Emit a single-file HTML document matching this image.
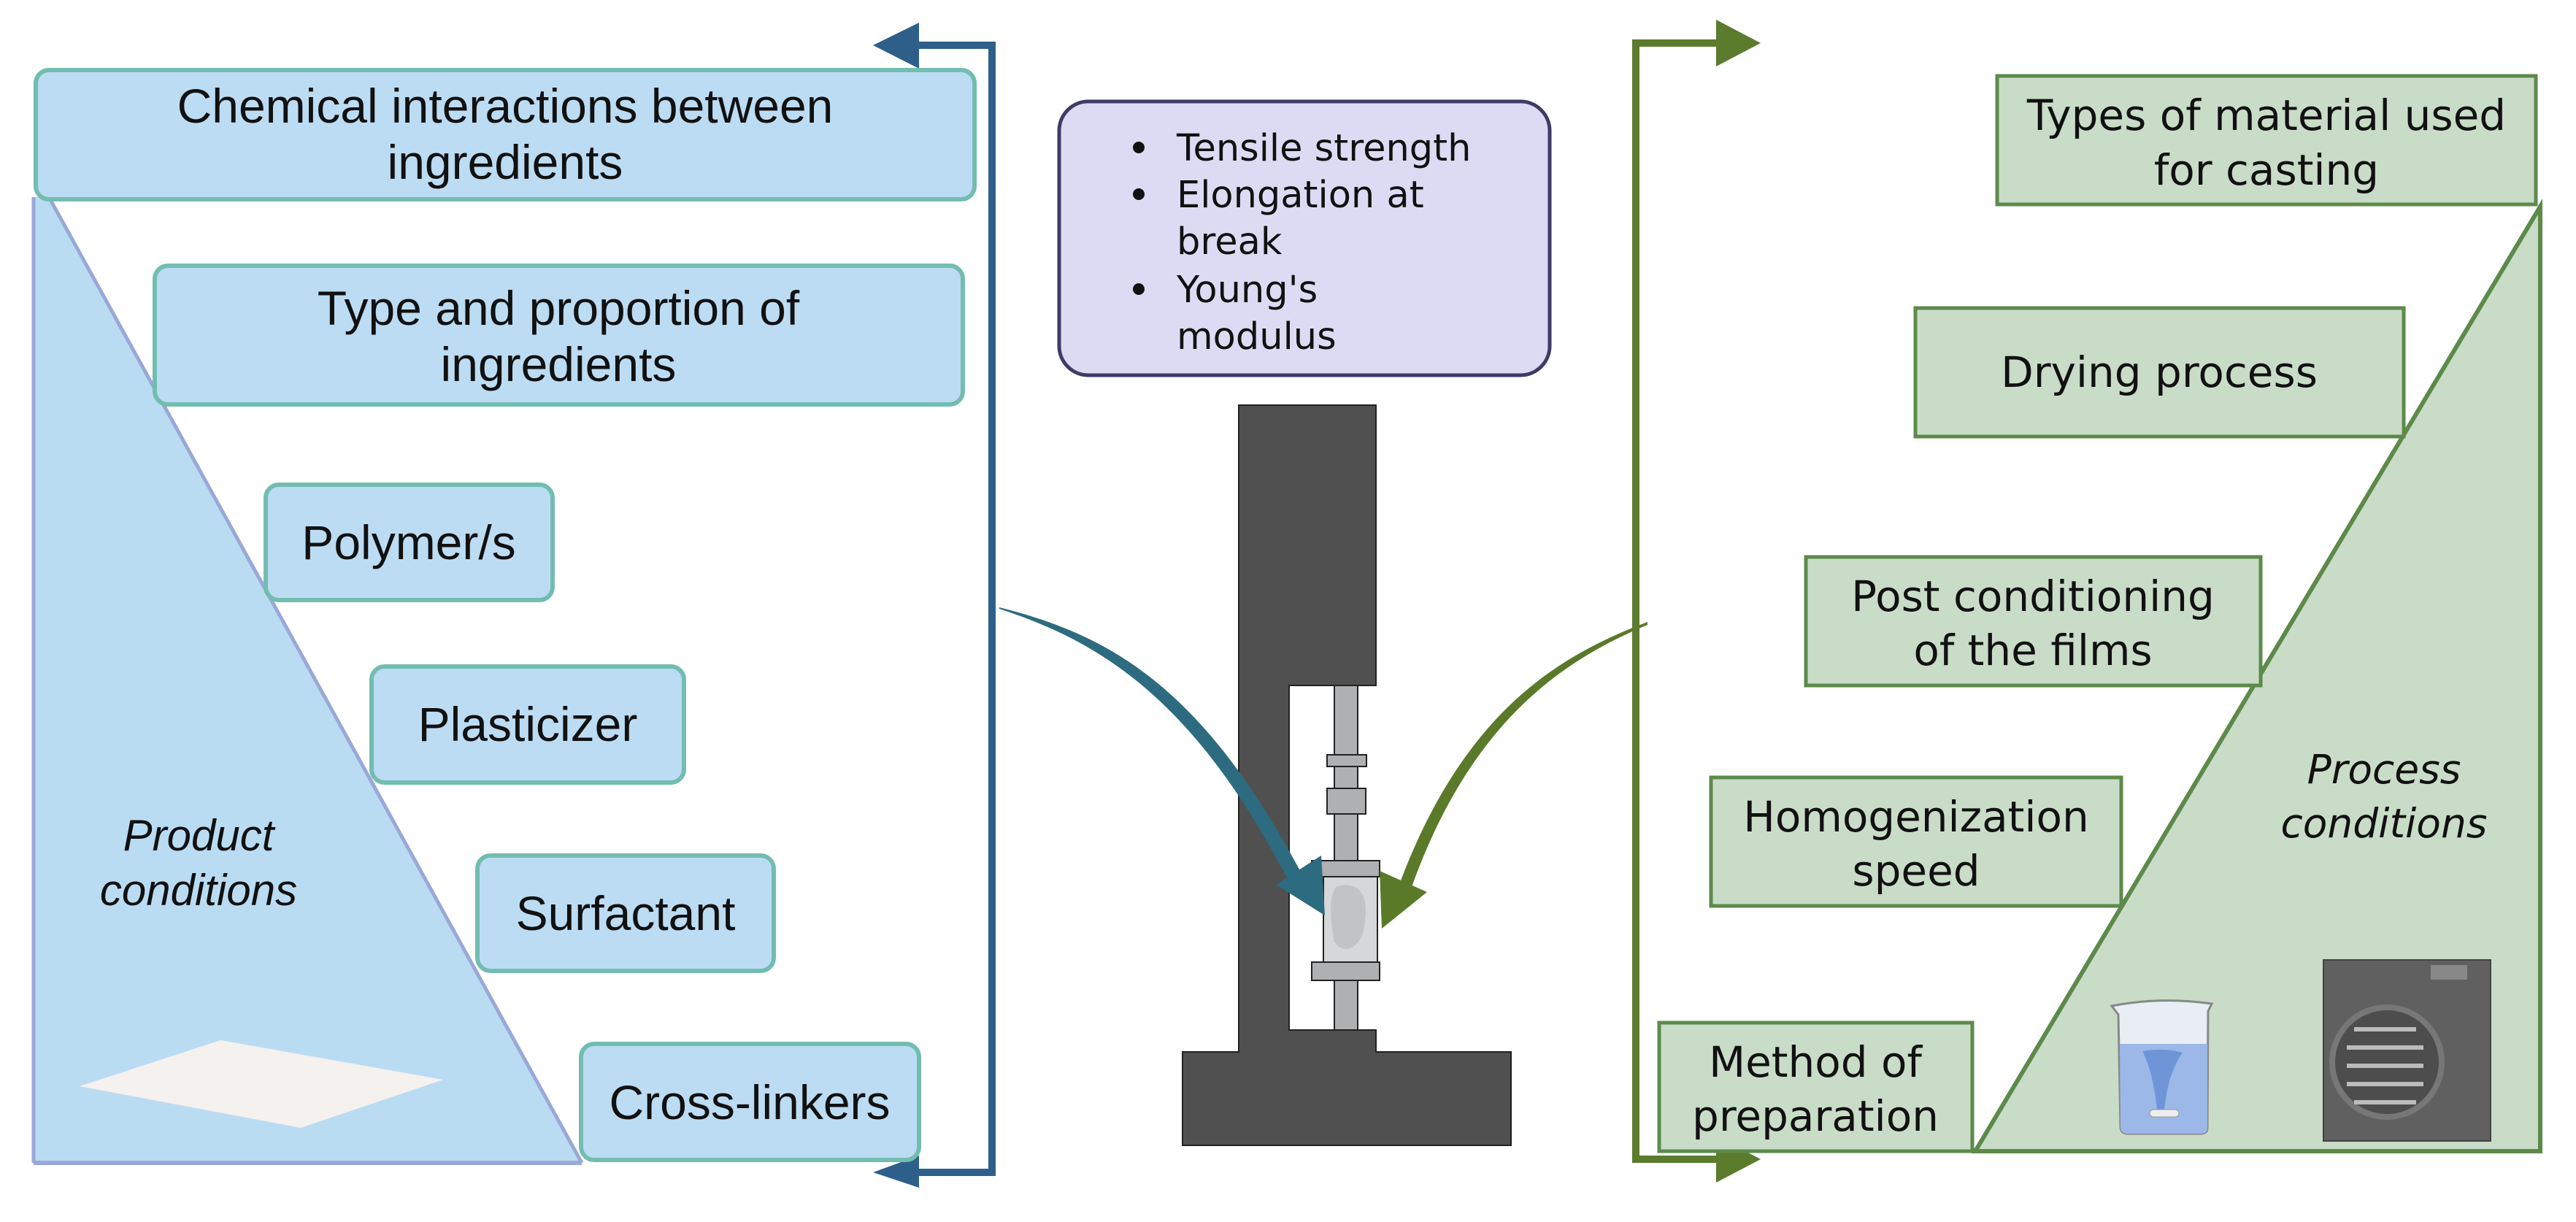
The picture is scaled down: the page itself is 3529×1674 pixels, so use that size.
<!DOCTYPE html>
<html><head><meta charset="utf-8"><style>
html,body{margin:0;padding:0;background:#fff;}
svg{display:block;}
.l{font-family:"Liberation Sans",sans-serif;font-size:66px;fill:#111;text-anchor:middle;}
.g{font-family:"DejaVu Sans","Liberation Sans",sans-serif;font-size:58px;fill:#111;text-anchor:middle;}
.c{font-family:"DejaVu Sans","Liberation Sans",sans-serif;font-size:51px;fill:#111;}
</style></head><body>
<svg width="3529" height="1674" viewBox="0 0 3529 1674" xmlns="http://www.w3.org/2000/svg">
<polygon points="46,270 67,270 797,1593 46,1593" fill="#badcf3"/>
<line x1="67" y1="270" x2="797" y2="1593" stroke="#9aa8d8" stroke-width="5"/>
<line x1="46" y1="270" x2="46" y2="1593" stroke="#9aa8d8" stroke-width="5"/>
<line x1="46" y1="1593" x2="797" y2="1593" stroke="#9aa8d8" stroke-width="6"/>
<polygon points="109,1488 302,1425 607,1479 412,1545" fill="#f5f1ee"/>
<text x="272" y="1165" font-family="Liberation Sans,sans-serif" font-size="60" font-style="italic" text-anchor="middle" fill="#111">Product</text>
<text x="272" y="1240" font-family="Liberation Sans,sans-serif" font-size="60" font-style="italic" text-anchor="middle" fill="#111">conditions</text>

<polyline points="1259,62 1359,62 1359,1606 1259,1606" fill="none" stroke="#2e5f8a" stroke-width="10"/>
<polygon points="1196,62 1259,31 1259,94" fill="#2e5f8a"/>
<polygon points="1196,1606 1259,1583 1259,1627" fill="#2e5f8a"/>

<g fill="#bcdcf3" stroke="#72bdb0" stroke-width="6">
<rect x="49" y="96" width="1286" height="177" rx="18"/>
<rect x="212" y="364" width="1107" height="190" rx="18"/>
<rect x="364" y="664" width="393" height="158" rx="18"/>
<rect x="509" y="913" width="428" height="159" rx="18"/>
<rect x="654" y="1172" width="406" height="158" rx="18"/>
<rect x="796" y="1430" width="463" height="159" rx="18"/>
</g>
<text class="l" x="692" y="168">Chemical interactions between</text>
<text class="l" x="692" y="245">ingredients</text>
<text class="l" x="765" y="445">Type and proportion of</text>
<text class="l" x="765" y="522">ingredients</text>
<text class="l" x="560" y="766">Polymer/s</text>
<text class="l" x="723" y="1015">Plasticizer</text>
<text class="l" x="857" y="1274">Surfactant</text>
<text class="l" x="1027" y="1533">Cross-linkers</text>

<rect x="1451" y="139" width="672" height="375" rx="40" fill="#dddbf3" stroke="#3f3a66" stroke-width="5"/>
<g class="c">
<circle cx="1560" cy="202" r="8" fill="#111"/>
<circle cx="1560" cy="266" r="8" fill="#111"/>
<circle cx="1560" cy="396" r="8" fill="#111"/>
<text x="1612" y="220">Tensile strength</text>
<text x="1612" y="284">Elongation at</text>
<text x="1612" y="348">break</text>
<text x="1612" y="414">Young's</text>
<text x="1612" y="478">modulus</text>
</g>

<g stroke="#222" stroke-width="2">
<path d="M1697,555 H1885 V939 H1766 V1411 H1885 V1441 H2070 V1569 H1620 V1441 H1697 Z" fill="#505050"/>
<rect x="1828" y="939" width="32" height="472" fill="#aeb0b2"/>
<rect x="1818" y="1034" width="54" height="16" fill="#aeb0b2"/>
<rect x="1818" y="1080" width="53" height="35" fill="#aeb0b2"/>
<rect x="1797" y="1179" width="93" height="22" fill="#aeb0b2"/>
<rect x="1813" y="1201" width="74" height="117" fill="#d6d7d8"/>
<rect x="1797" y="1318" width="93" height="25" fill="#aeb0b2"/>
</g>
<path d="M1830,1215 C1860,1205 1875,1225 1870,1260 C1868,1300 1840,1310 1828,1290 C1822,1260 1820,1230 1830,1215 Z" fill="#c2c3c5"/>

<path d="M1369,832 C1520,870 1650,940 1790,1210 L1772,1220 C1640,960 1510,880 1369,834 Z" fill="#2d6b80"/>
<polygon points="1748,1212 1815,1254 1810,1172" fill="#2d6b80"/>
<path d="M2257,852 C2130,900 2000,980 1912,1225 L1928,1232 C2010,990 2140,905 2257,856 Z" fill="#5a7a2a"/>
<polygon points="1890,1193 1893,1272 1955,1222" fill="#5a7a2a"/>

<polyline points="2351,59 2241,59 2241,1588 2351,1588" fill="none" stroke="#5b7b2d" stroke-width="10"/>
<polygon points="2412,59 2351,27 2351,91" fill="#5b7b2d"/>
<polygon points="2412,1588 2351,1556 2351,1620" fill="#5b7b2d"/>

<polygon points="2706,1577 3480,283 3480,1577" fill="#c9dcc8" stroke="#5d8a4a" stroke-width="6"/>
<text x="3266" y="1073" font-family="DejaVu Sans,sans-serif" font-size="55" font-style="italic" text-anchor="middle" fill="#111">Process</text>
<text x="3266" y="1147" font-family="DejaVu Sans,sans-serif" font-size="55" font-style="italic" text-anchor="middle" fill="#111">conditions</text>

<g>
<path d="M2893,1378 L2902,1390 L2905,1545 Q2906,1553 2915,1553 L3015,1553 Q3024,1553 3024,1545 L3025,1385 L3030,1375 Q2960,1365 2893,1378 Z" fill="#e9eef4" stroke="#888" stroke-width="3"/>
<path d="M2904,1430 L3024,1430 L3024,1545 Q3024,1553 3015,1553 L2915,1553 Q2906,1553 2905,1545 Z" fill="#9cb8e8"/>
<path d="M2935,1440 Q2965,1435 2990,1442 Q2970,1470 2965,1520 L2955,1520 Q2950,1470 2935,1440 Z" fill="#6f95d8"/>
<rect x="2945" y="1520" width="40" height="10" rx="5" fill="#eee" stroke="#999"/>
</g>
<g>
<rect x="3183" y="1315" width="229" height="248" fill="#606060" stroke="#444" stroke-width="2"/>
<rect x="3330" y="1322" width="50" height="20" fill="#888"/>
<circle cx="3270" cy="1455" r="75" fill="#4d4d4d" stroke="#777" stroke-width="8"/>
<g stroke="#bbb" stroke-width="6">
<line x1="3225" y1="1410" x2="3310" y2="1410"/>
<line x1="3215" y1="1435" x2="3320" y2="1435"/>
<line x1="3215" y1="1460" x2="3320" y2="1460"/>
<line x1="3215" y1="1485" x2="3320" y2="1485"/>
<line x1="3225" y1="1510" x2="3310" y2="1510"/>
</g>
</g>

<g fill="#c9dcc8" stroke="#5d8a4a" stroke-width="5">
<rect x="2736" y="104" width="738" height="176"/>
<rect x="2624" y="422" width="669" height="176"/>
<rect x="2474" y="763" width="623" height="176"/>
<rect x="2344" y="1065" width="562" height="176"/>
<rect x="2273" y="1401" width="429" height="176"/>
</g>
<text class="g" x="3105" y="178">Types of material used</text>
<text class="g" x="3105" y="253">for casting</text>
<text class="g" x="2958" y="530">Drying process</text>
<text class="g" x="2785" y="837">Post conditioning</text>
<text class="g" x="2785" y="911">of the films</text>
<text class="g" x="2625" y="1139">Homogenization</text>
<text class="g" x="2625" y="1213">speed</text>
<text class="g" x="2487" y="1475">Method of</text>
<text class="g" x="2487" y="1549">preparation</text>
</svg>
</body></html>
